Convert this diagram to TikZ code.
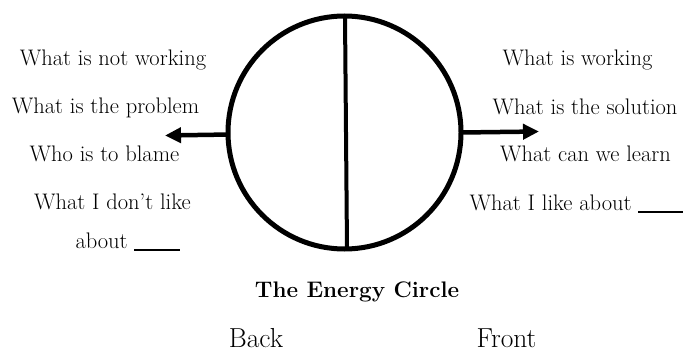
\documentclass[tikz,border=0pt]{standalone}
\usetikzlibrary{arrows.meta}
\newcommand{\blankline}{\rule[-2.5pt]{46pt}{1.1pt}}
\begin{document}
\begin{tikzpicture}[x=1pt,y=-1pt,
  lbl/.style={inner sep=0pt, anchor=base, font=\fontsize{22.5}{26}\selectfont},
  ttl/.style={inner sep=0pt, anchor=base, font=\fontsize{22.5}{26}\selectfont\bfseries},
  side/.style={inner sep=0pt, anchor=base, font=\fontsize{27.5}{32}\selectfont},
  ring/.style={circle, draw, line width=5pt, minimum size=233pt, inner sep=0pt, outer sep=0pt},
  divider/.style={line width=4pt},
  pointer/.style={line width=4.5pt, -{Triangle[length=16pt,width=15pt]}}]
\useasboundingbox (0,0) rectangle (683,353);
\node[ring] (c) at (344.5,132.5) {};
\coordinate (top) at (345,16);
\coordinate (bot) at (347,249);
\draw[divider] (top) -- (bot);
\coordinate (lt) at (165,135.5);
\coordinate (rt) at (539,131.5);
\draw[pointer] (c.181.5) -- (lt);
\draw[pointer] (c.0.5) -- (rt);
\node[lbl] (l1) at (113,66) {What is not working};
\node[lbl] (l2) at (105.5,113.5) {What is the problem};
\node[lbl] (l3) at (104.5,161) {Who is to blame};
\node[lbl] (l4) at (112.5,209) {What I don’t like};
\node[lbl] (l5) at (128,248) {about \blankline};
\node[lbl] (r1) at (577.5,66) {What is working};
\node[lbl] (r2) at (585,114) {What is the solution};
\node[lbl] (r3) at (585.5,161.5) {What can we learn};
\node[lbl] (r4) at (577,210) {What I like about \blankline};
\node[ttl] (title) at (357,297) {The Energy Circle};
\node[side] (back) at (256,347) {Back};
\node[side] (front) at (506.5,347) {Front};
\end{tikzpicture}
\end{document}
